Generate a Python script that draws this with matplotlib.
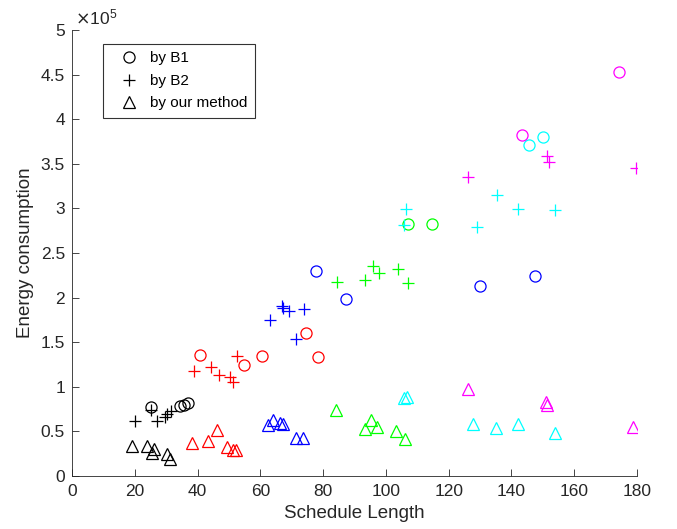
import matplotlib
matplotlib.use("Agg")
import matplotlib.pyplot as plt
from matplotlib.ticker import FuncFormatter, MultipleLocator
from matplotlib.lines import Line2D

plt.rcParams['font.family'] = ['Liberation Sans', 'DejaVu Sans']

colors = ['k', 'r', 'b', '#00ff00', '#00ffff', '#ff00ff']

# Schedule length / energy (x1e5) per colour group
b1_x = [[25.2, 34.5, 35.8, 37.0],
        [40.8, 54.8, 60.5, 74.5, 78.4],
        [77.7, 87.3, 130.0, 147.5],
        [107.0, 114.6],
        [145.6, 150.0],
        [174.3, 143.4]]
b1_y = [[0.77, 0.78, 0.80, 0.82],
        [1.36, 1.24, 1.35, 1.60, 1.33],
        [2.30, 1.98, 2.13, 2.24],
        [2.82, 2.82],
        [3.71, 3.80],
        [4.53, 3.82]]

b2_x = [[20.0, 25.2, 27.0, 29.6, 30.4, 31.5],
        [38.9, 44.3, 46.8, 50.3, 51.3, 52.5],
        [63.0, 66.9, 67.2, 69.0, 73.9, 71.4],
        [84.4, 93.3, 95.9, 97.8, 103.9, 107.0],
        [106.4, 105.8, 129.0, 135.4, 142.1, 153.9],
        [126.2, 151.3, 152.0, 179.7]]
b2_y = [[0.62, 0.74, 0.62, 0.66, 0.70, 0.73],
        [1.18, 1.22, 1.13, 1.11, 1.05, 1.34],
        [1.75, 1.91, 1.88, 1.85, 1.87, 1.54],
        [2.18, 2.20, 2.35, 2.28, 2.32, 2.16],
        [2.99, 2.81, 2.79, 3.15, 2.99, 2.98],
        [3.35, 3.59, 3.52, 3.45]]

our_x = [[19.2, 24.0, 25.4, 26.2, 30.2, 31.2],
         [38.3, 43.3, 46.2, 49.3, 51.3, 52.3],
         [62.3, 64.0, 66.4, 67.3, 71.3, 73.5],
         [84.1, 93.3, 95.2, 97.2, 103.2, 106.0],
         [105.6, 106.6, 127.8, 135.0, 142.1, 153.9],
         [126.1, 151.0, 151.2, 178.7]]
our_y = [[0.34, 0.34, 0.26, 0.30, 0.25, 0.19],
         [0.37, 0.39, 0.52, 0.33, 0.29, 0.29],
         [0.57, 0.63, 0.59, 0.58, 0.43, 0.43],
         [0.74, 0.53, 0.63, 0.55, 0.50, 0.41],
         [0.87, 0.88, 0.58, 0.54, 0.58, 0.48],
         [0.98, 0.83, 0.80, 0.55]]

labels = ['by B1', 'by B2', 'by our method']

fig = plt.figure(figsize=(6.77, 5.29), dpi=100)
ax = fig.add_axes([0.1064, 0.1002, 0.8346, 0.8431])

lw = 0.9
ms_o, ms_p, ms_t = 8.0, 8.5, 8.5
for i, c in enumerate(colors):
    ax.plot(b1_x[i], [v * 1e5 for v in b1_y[i]], 'o', mfc='none', mec=c, ms=ms_o, mew=lw)
    ax.plot(b2_x[i], [v * 1e5 for v in b2_y[i]], '+', color=c, ms=ms_p, mew=lw)
    ax.plot(our_x[i], [v * 1e5 for v in our_y[i]], '^', mfc='none', mec=c, ms=ms_t, mew=lw)

ax.set_xlim(0, 180)
ax.set_ylim(0, 5e5)
ax.xaxis.set_major_locator(MultipleLocator(20))
ax.yaxis.set_major_locator(MultipleLocator(0.5e5))
ax.yaxis.set_major_formatter(FuncFormatter(lambda v, p: ('%g' % (v / 1e5))))

for s in ['top', 'right']:
    ax.spines[s].set_visible(False)
axcol = '#262626'
for s in ['left', 'bottom']:
    ax.spines[s].set_color(axcol)
    ax.spines[s].set_linewidth(0.6)
ax.tick_params(direction='in', length=5, width=0.6, colors=axcol, labelsize=12.5, pad=6)
ax.tick_params(axis='y', pad=5)

ax.set_xlabel('Schedule Length', fontsize=13.5, color=axcol, labelpad=4)
ax.set_ylabel('Energy consumption', fontsize=13.5, color=axcol, labelpad=5)
ax.text(0.005, 1.005, r'$\times\mathregular{10^5}$', transform=ax.transAxes, fontsize=12.5,
        color=axcol, ha='left', va='bottom')

handles = [Line2D([], [], marker='o', ls='none', mfc='none', mec='k', ms=ms_o, mew=lw),
           Line2D([], [], marker='+', ls='none', color='k', ms=ms_p, mew=lw),
           Line2D([], [], marker='^', ls='none', mfc='none', mec='k', ms=ms_t, mew=lw)]
leg = ax.legend(handles, labels, loc='upper left', bbox_to_anchor=(0.055, 0.969),
                borderaxespad=0, fancybox=False, edgecolor='k', fontsize=11,
                handletextpad=0.2, borderpad=0.5, labelspacing=0.55, handlelength=2.4)
leg.get_frame().set_linewidth(0.8)

fig.savefig('out.png', dpi=100)
